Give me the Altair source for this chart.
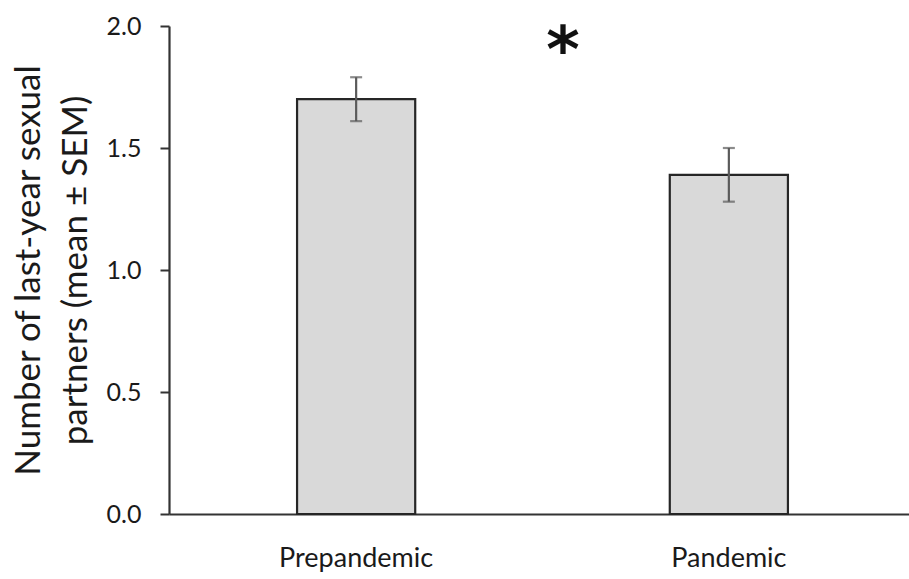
import altair as alt
import pandas as pd

periods = ["Prepandemic", "Pandemic"]
means = [1.70, 1.39]
sems = [0.09, 0.11]
star_label = ["*"]
star_y = [1.95]

df = pd.DataFrame({
    "period": periods,
    "mean": means,
    "lo": [m - s for m, s in zip(means, sems)],
    "hi": [m + s for m, s in zip(means, sems)],
})
star_df = pd.DataFrame({"label": star_label, "y": star_y})

FONT = "Lato"
Y_TITLE = ["Number of last-year sexual", "partners (mean ± SEM)"]

x_scale = alt.Scale(paddingInner=0.683, paddingOuter=0.3436, range=[0, 747])
x_enc = alt.X(
    "period:N",
    sort=periods,
    title=None,
    scale=x_scale,
    axis=alt.Axis(
        labelAngle=0, labelFontSize=27, labelFont=FONT, labelColor="#1a1a1a",
        ticks=False, domainColor="#333333", domainWidth=2.2, labelPadding=31,
    ),
)
y_scale = alt.Scale(domain=[0, 2.0], nice=False)
y_axis = alt.Axis(
    values=[0, 0.5, 1.0, 1.5, 2.0], format=".1f", grid=False,
    labelFontSize=25, labelFont=FONT, labelColor="#1a1a1a", labelPadding=19,
    tickSize=9, tickColor="#333333", tickWidth=2, domainColor="#333333", domainWidth=2.2,
    titleFontSize=35, titleFont=FONT, titleFontWeight="normal", titleColor="#1a1a1a",
    titleLineHeight=47, titlePadding=13,
)

bars = alt.Chart(df).mark_bar(
    color="#d9d9d9", stroke="#262626", strokeWidth=2.2
).encode(
    x=x_enc,
    y=alt.Y("mean:Q", scale=y_scale, axis=y_axis, title=Y_TITLE),
)

err = alt.Chart(df).mark_errorbar(
    ticks=alt.MarkConfig(size=12, color="#5a5a5a", strokeWidth=2.2),
    color="#5a5a5a", thickness=2.2,
).encode(
    x=alt.X("period:N", sort=periods, scale=x_scale),
    y=alt.Y("lo:Q", scale=y_scale, title=Y_TITLE),
    y2="hi:Q",
)

star = alt.Chart(star_df).mark_text(
    fontSize=64, font="DejaVu Sans", fontWeight="bold", color="#111111",
    baseline="middle", align="center", dy=15,
).encode(
    x=alt.value(394),
    y=alt.Y("y:Q", scale=y_scale, title=Y_TITLE),
    text="label:N",
)

chart = alt.layer(bars, err, star).properties(
    width=740, height=488,
    padding={"left": 169, "top": 26, "right": 0, "bottom": 65},
    autosize=alt.AutoSizeParams(type="none"),
    background="white",
).configure_view(strokeWidth=0, stroke=None)

chart.save("out.html", embed_options={"renderer": "svg", "actions": False})
